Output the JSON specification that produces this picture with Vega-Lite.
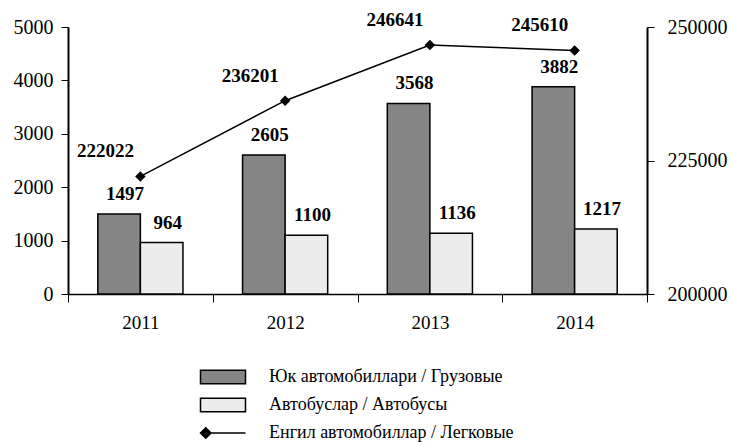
{
  "$schema": "https://vega.github.io/schema/vega-lite/v6.json",
  "width": 579,
  "height": 267,
  "autosize": "none",
  "padding": {"left": 68, "top": 27, "right": 84, "bottom": 152},
  "background": "white",
  "config": {
    "view": {"stroke": null},
    "font": "Liberation Serif",
    "axis": {
      "domainColor": "black",
      "tickColor": "black",
      "labelColor": "black",
      "labelFont": "Liberation Serif",
      "labelFontSize": 20,
      "grid": false,
      "title": null
    },
    "legend": {
      "orient": "none",
      "legendX": 139,
      "legendY": 334,
      "direction": "vertical",
      "labelFont": "Liberation Serif",
      "labelFontSize": 18,
      "labelColor": "black",
      "labelLimit": 400,
      "symbolSize": 900,
      "symbolStrokeColor": "black",
      "symbolStrokeWidth": 1,
      "rowPadding": 2,
      "labelOffset": 30
    }
  },
  "datasets": {
    "vehicles": [
      {"year": "2011", "type": "Юк автомобиллари / Грузовые", "value": 1497},
      {"year": "2011", "type": "Автобуслар / Автобусы", "value": 964},
      {"year": "2012", "type": "Юк автомобиллари / Грузовые", "value": 2605},
      {"year": "2012", "type": "Автобуслар / Автобусы", "value": 1100},
      {"year": "2013", "type": "Юк автомобиллари / Грузовые", "value": 3568},
      {"year": "2013", "type": "Автобуслар / Автобусы", "value": 1136},
      {"year": "2014", "type": "Юк автомобиллари / Грузовые", "value": 3882},
      {"year": "2014", "type": "Автобуслар / Автобусы", "value": 1217}
    ],
    "cars": [
      {"year": "2011", "value": 222022},
      {"year": "2012", "value": 236201},
      {"year": "2013", "value": 246641},
      {"year": "2014", "value": 245610}
    ]
  },
  "layer": [
    {
      "data": {"name": "vehicles"},
      "encoding": {
        "x": {
          "field": "year",
          "type": "nominal",
          "scale": {"paddingInner": 0, "paddingOuter": 0},
          "axis": {"labelAngle": 0, "tickBand": "extent", "tickSize": 8, "domainWidth": 1.5, "labelPadding": 11, "labelFontSize": 19}
        },
        "xOffset": {
          "field": "type",
          "type": "nominal",
          "scale": {"domain": ["Юк автомобиллари / Грузовые", "Автобуслар / Автобусы"], "paddingOuter": 0.7, "paddingInner": 0}
        },
        "y": {
          "field": "value",
          "type": "quantitative",
          "scale": {"domain": [0, 5000], "nice": false},
          "axis": {"values": [0, 1000, 2000, 3000, 4000, 5000], "format": "d", "tickSize": 7, "domainWidth": 2, "labelPadding": 8}
        }
      },
      "layer": [
        {
          "mark": {"type": "bar", "stroke": "black", "strokeWidth": 1.5},
          "encoding": {
            "fill": {
              "field": "type",
              "type": "nominal",
              "scale": {
                "domain": ["Юк автомобиллари / Грузовые", "Автобуслар / Автобусы", "Енгил автомобиллар / Легковые"],
                "range": ["#858585", "#ececec", "#000000"]
              },
              "legend": {
                "title": null,
                "encode": {
                  "symbols": {
                    "update": {
                      "shape": {"signal": "datum.value === 'Енгил автомобиллар / Легковые' ? 'M-0.95,0H1.5M-1.5,0L-1.15,-0.35L-0.8,0L-1.15,0.35Z' : 'M-1.5,-0.45H1.5V0.45H-1.5Z'"},
                      "strokeWidth": {"value": 1.5}
                    }
                  }
                }
              }
            }
          }
        },
        {
          "mark": {"type": "text", "dx": 6, "dy": -20, "baseline": "middle", "fontWeight": "bold", "fontSize": 19, "font": "Liberation Serif", "color": "black"},
          "encoding": {"text": {"field": "value", "type": "quantitative", "format": "d"}}
        }
      ]
    },
    {
      "data": {"name": "cars"},
      "encoding": {
        "x": {"field": "year", "type": "nominal"},
        "y": {
          "field": "value",
          "type": "quantitative",
          "scale": {"domain": [200000, 250000], "nice": false},
          "axis": {"orient": "right", "values": [200000, 225000, 250000], "format": "d", "tickSize": 7, "domainWidth": 2, "labelPadding": 13}
        }
      },
      "layer": [
        {"mark": {"type": "line", "color": "black", "strokeWidth": 1.5}, "encoding": {}},
        {"mark": {"type": "point", "shape": "diamond", "filled": true, "size": 110, "color": "black", "opacity": 1}, "encoding": {}},
        {
          "mark": {"type": "text", "dx": -35, "dy": -25, "baseline": "middle", "fontWeight": "bold", "fontSize": 19, "font": "Liberation Serif", "color": "black"},
          "encoding": {"text": {"field": "value", "type": "quantitative", "format": "d"}}
        }
      ]
    }
  ],
  "resolve": {"scale": {"y": "independent"}}
}
